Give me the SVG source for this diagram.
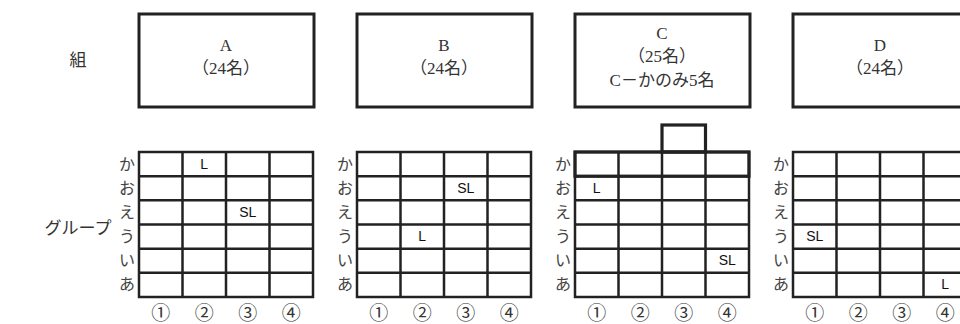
<svg xmlns="http://www.w3.org/2000/svg" width="960" height="324" viewBox="0 0 960 324">
<style>
.box{fill:#fff;stroke:#222;stroke-width:3}
.gl{fill:none;stroke:#222;stroke-width:2.5}
.thick{fill:none;stroke:#222;stroke-width:3.2}
.t{font-family:"Liberation Serif","Noto Sans CJK JP",serif;font-size:17px;fill:#333;text-anchor:middle}
.n{font-family:"Liberation Serif","Noto Sans CJK JP",serif;font-size:19px;fill:#333;text-anchor:middle}
.rl{font-family:"Liberation Serif","Noto Sans CJK JP",serif;font-size:16px;fill:#444;text-anchor:middle}
.m{font-family:"Liberation Sans","Noto Sans",sans-serif;font-size:14px;fill:#111;text-anchor:middle}
</style>
<defs>
<g id="grid">
<rect class="gl" x="0" y="0" width="174" height="145"/>
<path class="gl" d="M43.5 0V145M87 0V145M130.5 0V145M0 24.2H174M0 48.3H174M0 72.5H174M0 96.7H174M0 120.8H174"/>
<text class="rl" x="-12" y="18">か</text>
<text class="rl" x="-12" y="42">お</text>
<text class="rl" x="-12" y="66">え</text>
<text class="rl" x="-12" y="90">う</text>
<text class="rl" x="-12" y="114">い</text>
<text class="rl" x="-12" y="138">あ</text>
<text class="n" x="21.75" y="168">①</text>
<text class="n" x="65.25" y="168">②</text>
<text class="n" x="108.75" y="168">③</text>
<text class="n" x="152.25" y="168">④</text>
</g>
</defs>
<rect width="960" height="324" fill="#fff"/>
<g id="labels">
<text class="t" x="78" y="66">組</text>
<text class="t" x="78" y="234">グループ</text>
</g>
<g id="classA">
<rect class="box" x="139" y="14" width="175" height="93"/>
<text class="t" x="226" y="51">A</text>
<text class="t" x="226" y="74">（24名）</text>
</g>
<g id="classB">
<rect class="box" x="357" y="14" width="175" height="93"/>
<text class="t" x="444" y="51">B</text>
<text class="t" x="444" y="74">（24名）</text>
</g>
<g id="classC">
<rect class="box" x="575" y="14" width="175" height="93"/>
<text class="t" x="662" y="39">C</text>
<text class="t" x="662" y="62">（25名）</text>
<text class="t" x="662" y="86">C－かのみ5名</text>
</g>
<g id="classD">
<rect class="box" x="793" y="14" width="175" height="93"/>
<text class="t" x="880" y="51">D</text>
<text class="t" x="880" y="74">（24名）</text>
</g>
<g id="gridA" transform="translate(139,152)">
<use href="#grid"/>
<text class="m" x="65.25" y="17">L</text>
<text class="m" x="108.75" y="65">SL</text>
</g>
<g id="gridB" transform="translate(357,152)">
<use href="#grid"/>
<text class="m" x="108.75" y="41">SL</text>
<text class="m" x="65.25" y="89">L</text>
</g>
<g id="gridC" transform="translate(575,152)">
<use href="#grid"/>
<rect class="thick" x="0" y="0" width="174" height="24.2"/>
<rect class="thick" x="87" y="-27" width="43.5" height="27"/>
<text class="m" x="21.75" y="41">L</text>
<text class="m" x="152.25" y="113">SL</text>
</g>
<g id="gridD" transform="translate(793,152)">
<use href="#grid"/>
<text class="m" x="21.75" y="89">SL</text>
<text class="m" x="152.25" y="137">L</text>
</g>
</svg>
